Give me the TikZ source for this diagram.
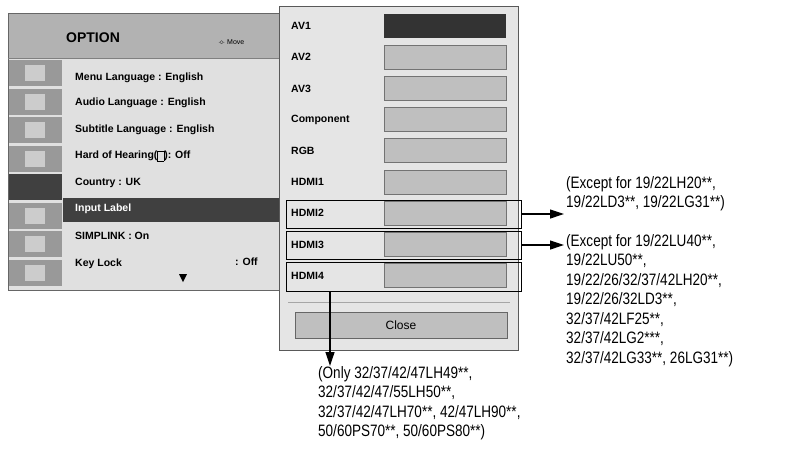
\documentclass[tikz,border=0pt]{standalone}
\usepackage{fontspec}
\setmainfont{Liberation Sans}
\newfontfamily\capfont[FakeStretch=0.82]{Liberation Sans}
\usetikzlibrary{arrows.meta}
\begin{document}
\begin{tikzpicture}[x=1pt,y=-1pt,
  mi/.style={anchor=west,font=\bfseries\fontsize{10.5}{12}\selectfont,inner sep=0},
  pl/.style={anchor=west,font=\bfseries\fontsize{10.5}{12}\selectfont,inner sep=0},
  slot/.style={draw=black!55,fill=black!25,line width=0.8pt},
  hl/.style={draw=black,line width=1pt},
  captxt/.style={anchor=north west,align=left,inner sep=0,font=\capfont\fontsize{16.5}{19.5}\selectfont},
  arr/.style={-{Triangle[length=14pt,width=9pt]},line width=1.2pt}]
\useasboundingbox (0,0) rectangle (804,459);
% left menu
\fill[black!12] (8,13) rectangle (283,290);
\fill[black!30] (8,13) rectangle (283,58);
\draw[black!60,line width=1pt] (8,13) rectangle (283,290);
\draw[black!50] (8,58) -- (283,58);
\foreach \i in {0,...,7}{
  \fill[black!40] (9,{60+\i*28.5}) rectangle (62,{86+\i*28.5});
  \fill[black!20] (25,{65+\i*28.5}) rectangle (45,{81+\i*28.5});}
\fill[black!75] (9,174) rectangle (62,200);
\fill[black!75] (63,198) rectangle (283,222);
\node[anchor=west,font=\bfseries\fontsize{14}{16}\selectfont,inner sep=0] (opt) at (66,38) {OPTION};
\node[anchor=west,font=\fontsize{7}{8}\selectfont,inner sep=0] (mv) at (218,42) {$\cdot\!\!\diamond\!\!\cdot$ Move};
\node[mi] (m1) at (75,78) {Menu Language : English};
\node[mi] (m2) at (75,103) {Audio Language : English};
\node[mi] (m3) at (75,130) {Subtitle Language : English};
\node[mi] (m4) at (75,156) {Hard of Hearing(\fbox{\rule{0pt}{4pt}}): Off};
\node[mi] (m5) at (75,183) {Country : UK};
\node[mi,text=white] (m6) at (75,209) {Input Label};
\node[mi] (m7) at (75,236) {SIMPLINK : On};
\node[mi] (m8) at (75,264) {Key Lock};
\node[mi] (m9) at (235,262) {: Off};
\fill (179,274) -- (187,274) -- (183,282) -- cycle;
% popup
\fill[black!10] (279,6) rectangle (518,350);
\draw[black!65,line width=1pt] (279,6) rectangle (518,350);
\fill[black!80] (384,14) rectangle (506,38);
\node[pl] (av1) at (291,26) {AV1};
\foreach \n/\t [count=\k from 1] in {av2/AV2,av3/AV3,comp/Component,rgb/RGB,h1/HDMI1,h2/HDMI2,h3/HDMI3,h4/HDMI4}{
  \draw[slot] (384,{14+\k*31.2}) rectangle (506,{38+\k*31.2});
  \node[pl] (\n) at (291,{26+\k*31.2}) {\t};}
\node[hl,minimum width=235pt,minimum height=28pt,inner sep=0] (b2) at (403.5,214) {};
\node[hl,minimum width=235pt,minimum height=28pt,inner sep=0] (b3) at (403.5,245) {};
\node[hl,minimum width=235pt,minimum height=29pt,inner sep=0] (b4) at (403.5,276.5) {};
\draw[black!35] (288,302) -- (510,302);
\node[draw=black!60,fill=black!25,line width=0.8pt,minimum width=212pt,minimum height=26pt,inner sep=0,font=\fontsize{12}{14}\selectfont] (close) at (401,325) {Close};
% captions
\node[captxt] (t2) at (566,176) {(Except for 19/22LH20**,\\19/22LD3**, 19/22LG31**)};
\node[captxt] (t3) at (566,234) {(Except for 19/22LU40**,\\19/22LU50**,\\19/22/26/32/37/42LH20**,\\19/22/26/32LD3**,\\32/37/42LF25**,\\32/37/42LG2***,\\32/37/42LG33**, 26LG31**)};
\node[captxt] (t4) at (318,366) {(Only 32/37/42/47LH49**,\\32/37/42/47/55LH50**,\\32/37/42/47LH70**, 42/47LH90**,\\50/60PS70**, 50/60PS80**)};
\coordinate (c2) at (564,214);
\coordinate (c3) at (564,245);
\coordinate (c4) at (330,366);
\coordinate (s4) at (330,291);
\draw[arr] (b2.east) -- (c2);
\draw[arr] (b3.east) -- (c3);
\draw[arr] (s4) -- (c4);
\end{tikzpicture}
\end{document}
